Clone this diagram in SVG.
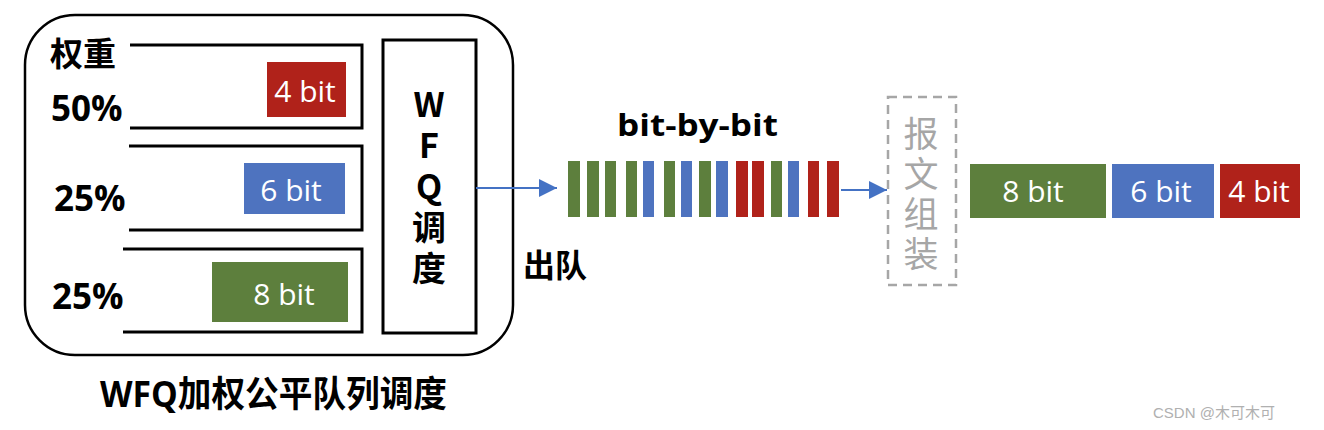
<svg xmlns="http://www.w3.org/2000/svg" width="1324" height="430" viewBox="0 0 1324 430">
<style>
.b{font-family:"Open Sans","Noto Sans CJK SC",sans-serif;font-weight:bold;fill:#000}
.c{font-family:"Noto Sans CJK SC",sans-serif;font-weight:bold;fill:#000}
.w{font-family:"Open Sans","Noto Sans",sans-serif;font-size:30px;fill:#fff;text-anchor:middle;dominant-baseline:central}
.q{fill:none;stroke:#000;stroke-width:3}
.r{fill:#B0221A}.u{fill:#4E73BF}.g{fill:#5D7F3D}
.ln{stroke:#4472C4;stroke-width:2;fill:none}
</style>
<defs>
<marker id="ah2" viewBox="0 0 18 18" markerWidth="18" markerHeight="18" refX="18" refY="9" orient="auto" markerUnits="userSpaceOnUse">
<path d="M0 0 L18 9 L0 18 Z" fill="#4472C4"/>
</marker>
</defs>
<rect width="1324" height="430" fill="#fff"/>
<g id="wfq-container">
<rect x="25" y="15" width="488" height="340" rx="50" ry="50" fill="none" stroke="#000" stroke-width="2.5"/>
<text class="c" x="50" y="52" font-size="33" dominant-baseline="central">权重</text>
</g>
<g id="queue1">
<path class="q" d="M130 45 H362 V128 H130"/>
<rect class="r" x="267" y="62" width="79" height="55"/>
<text class="w" x="305" y="90">4 bit</text>
<text class="b" x="51" y="121" font-size="35">50%</text>
</g>
<g id="queue2">
<path class="q" d="M129 146 H362 V230 H129"/>
<rect class="u" x="244" y="163" width="101" height="51"/>
<text class="w" x="291" y="189">6 bit</text>
<text class="b" x="54" y="211" font-size="35">25%</text>
</g>
<g id="queue3">
<path class="q" d="M123 249 H362 V332 H123"/>
<rect class="g" x="212" y="262" width="136" height="60"/>
<text class="w" x="284" y="293">8 bit</text>
<text class="b" x="52" y="309" font-size="35">25%</text>
</g>
<g id="wfq-scheduler">
<rect x="383" y="40" width="93" height="293" fill="none" stroke="#000" stroke-width="3"/>
<text class="c" x="429" y="87" font-size="34" style="writing-mode:vertical-rl;text-orientation:upright" letter-spacing="7">WFQ调度</text>
</g>
<g id="bit-stream">
<text class="b" x="617" y="136" font-size="31" textLength="161" lengthAdjust="spacingAndGlyphs">bit-by-bit</text>
<rect class="g" x="568" y="161" width="12" height="56"/>
<rect class="g" x="587" y="161" width="12" height="56"/>
<rect class="g" x="605" y="161" width="11" height="56"/>
<rect class="g" x="626" y="161" width="11" height="56"/>
<rect class="u" x="643" y="161" width="11" height="56"/>
<rect class="g" x="664" y="161" width="11" height="56"/>
<rect class="u" x="681" y="161" width="11" height="56"/>
<rect class="g" x="699" y="161" width="12" height="56"/>
<rect class="u" x="716" y="161" width="12" height="56"/>
<rect class="r" x="736" y="161" width="12" height="56"/>
<rect class="r" x="752" y="161" width="12" height="56"/>
<rect class="g" x="771" y="161" width="11" height="56"/>
<rect class="u" x="788" y="161" width="11" height="56"/>
<rect class="r" x="808" y="161" width="11" height="56"/>
<rect class="r" x="827" y="161" width="12" height="56"/>
</g>
<g id="dequeue-label">
<text class="c" x="523" y="263" font-size="32" dominant-baseline="central">出队</text>
</g>
<g id="reassembly">
<rect x="888" y="97" width="68" height="188" fill="none" stroke="#A6A6A6" stroke-width="2.5" stroke-dasharray="9,6"/>
<text x="921" y="116" font-family="Noto Sans CJK SC,sans-serif" font-size="35" fill="#A6A6A6" style="writing-mode:vertical-rl" letter-spacing="5">报文组装</text>
</g>
<g id="output-packets">
<rect class="g" x="970" y="164" width="136" height="54"/>
<text class="w" x="1033" y="190">8 bit</text>
<rect class="u" x="1112" y="164" width="102" height="54"/>
<text class="w" x="1161" y="190">6 bit</text>
<rect class="r" x="1220" y="164" width="80" height="54"/>
<text class="w" x="1259" y="190">4 bit</text>
</g>
<g id="connectors">
<line class="ln" x1="476" y1="188" x2="557" y2="188" marker-end="url(#ah2)"/>
<line class="ln" x1="841" y1="190" x2="887" y2="190" marker-end="url(#ah2)"/>
</g>
<g id="title">
<text class="b" x="100" y="393" font-size="36" dominant-baseline="central" textLength="347" lengthAdjust="spacingAndGlyphs">WFQ加权公平队列调度</text>
</g>
<text x="1153" y="418" font-family="Liberation Sans,Noto Sans CJK SC,sans-serif" font-size="15" fill="#b0b0b0">CSDN @木可木可</text>
</svg>
